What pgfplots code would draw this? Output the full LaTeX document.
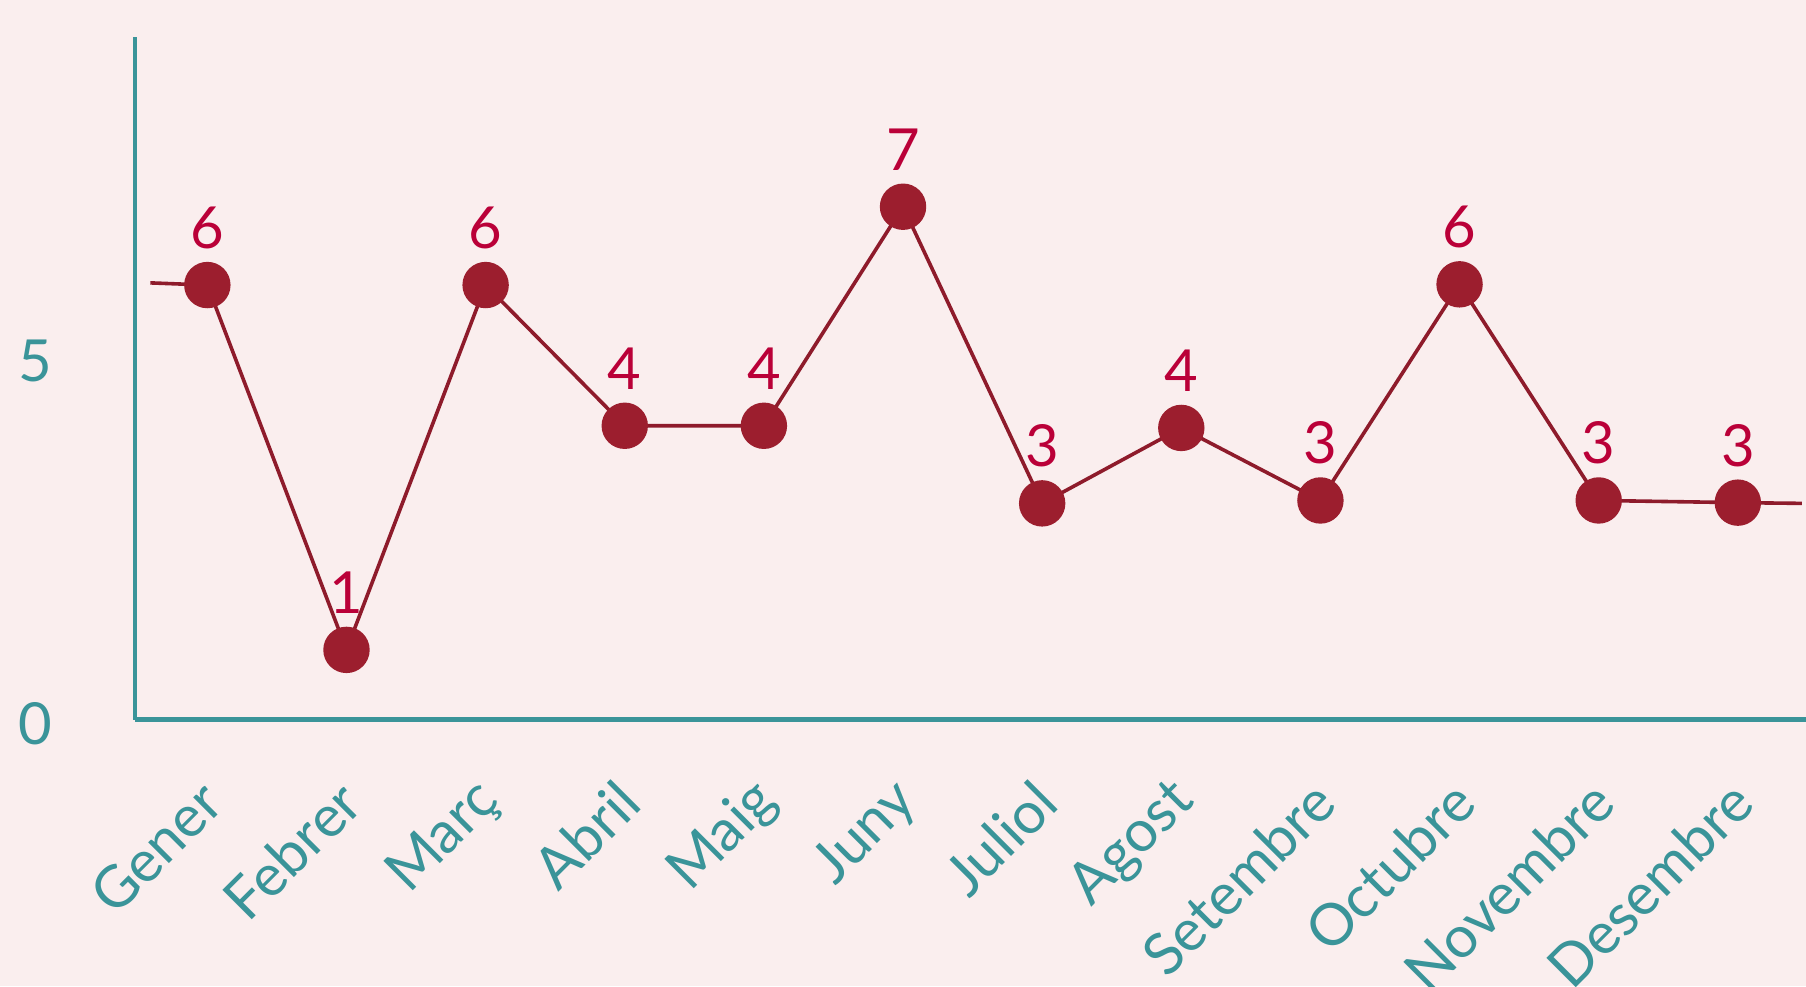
\documentclass[border=0pt]{standalone}
\usepackage{fontspec}
\setmainfont{Lato}
\usepackage{pgfplots}
\pgfplotsset{compat=1.18}

\definecolor{bg}{RGB}{250,238,238}
\definecolor{axcol}{RGB}{58,148,153}
\definecolor{dotcol}{RGB}{156,30,46}
\definecolor{linecol}{RGB}{142,27,43}
\definecolor{lblcol}{RGB}{186,0,56}

\begin{document}
\begin{tikzpicture}
\fill[bg] (0,0) rectangle (451.5pt,246.5pt);
\begin{axis}[
    at={(33.75pt,66.625pt)}, anchor=south west,
    scale only axis,
    width=417.75pt, height=170.625pt,
    xmin=-0.52, xmax=11.49,
    ymin=0, ymax=9.41,
    clip=false,
    axis x line=bottom, axis y line=left,
    axis line style={axcol, line width=1.2pt, -},
    xtick={0,...,11},
    xticklabels={Gener,Febrer,Març,Abril,Maig,Juny,Juliol,Agost,Setembre,Octubre,Novembre,Desembre},
    ytick={0,5},
    major tick length=0pt,
    /pgf/number format/assume math mode=true,
    tick label style={font=\fontsize{14.5}{17}\selectfont, text=axcol},
    % shifts are in the rotated frame
    xticklabel style={rotate=45, anchor=east, xshift=-8.6pt, yshift=-13.6pt},
    yticklabel style={anchor=center, xshift=-25pt, yshift=-1pt},
]
% line, with the segments running in from the months either side
\addplot[linecol, line width=0.9pt] coordinates {
    (-0.41,6.02) (0,5.99) (1,0.96) (2,5.99) (3,4.05) (4,4.05) (5,7.07)
    (6,2.98) (7,4.02) (8,3.02) (9,6.0) (10,3.02) (11,2.99) (11.46,2.98)};
% monthly points with rounded labels
\addplot[only marks, mark=*, mark size=5.6pt,
    mark options={fill=dotcol, draw=dotcol},
    nodes near coords={\pgfmathprintnumber[fixed,precision=0]{\pgfplotspointmeta}},
    every node near coord/.append style={text=lblcol,
        font=\fontsize{14.5}{17}\selectfont, yshift=5.5pt}]
    coordinates {
    (0,5.99) (1,0.96) (2,5.99) (3,4.05) (4,4.05) (5,7.07)
    (6,2.98) (7,4.02) (8,3.02) (9,6.0) (10,3.02) (11,2.99)};
\end{axis}
\pgfresetboundingbox
\path[use as bounding box] (0,0) rectangle (451.5pt,246.5pt);
\end{tikzpicture}
\end{document}
